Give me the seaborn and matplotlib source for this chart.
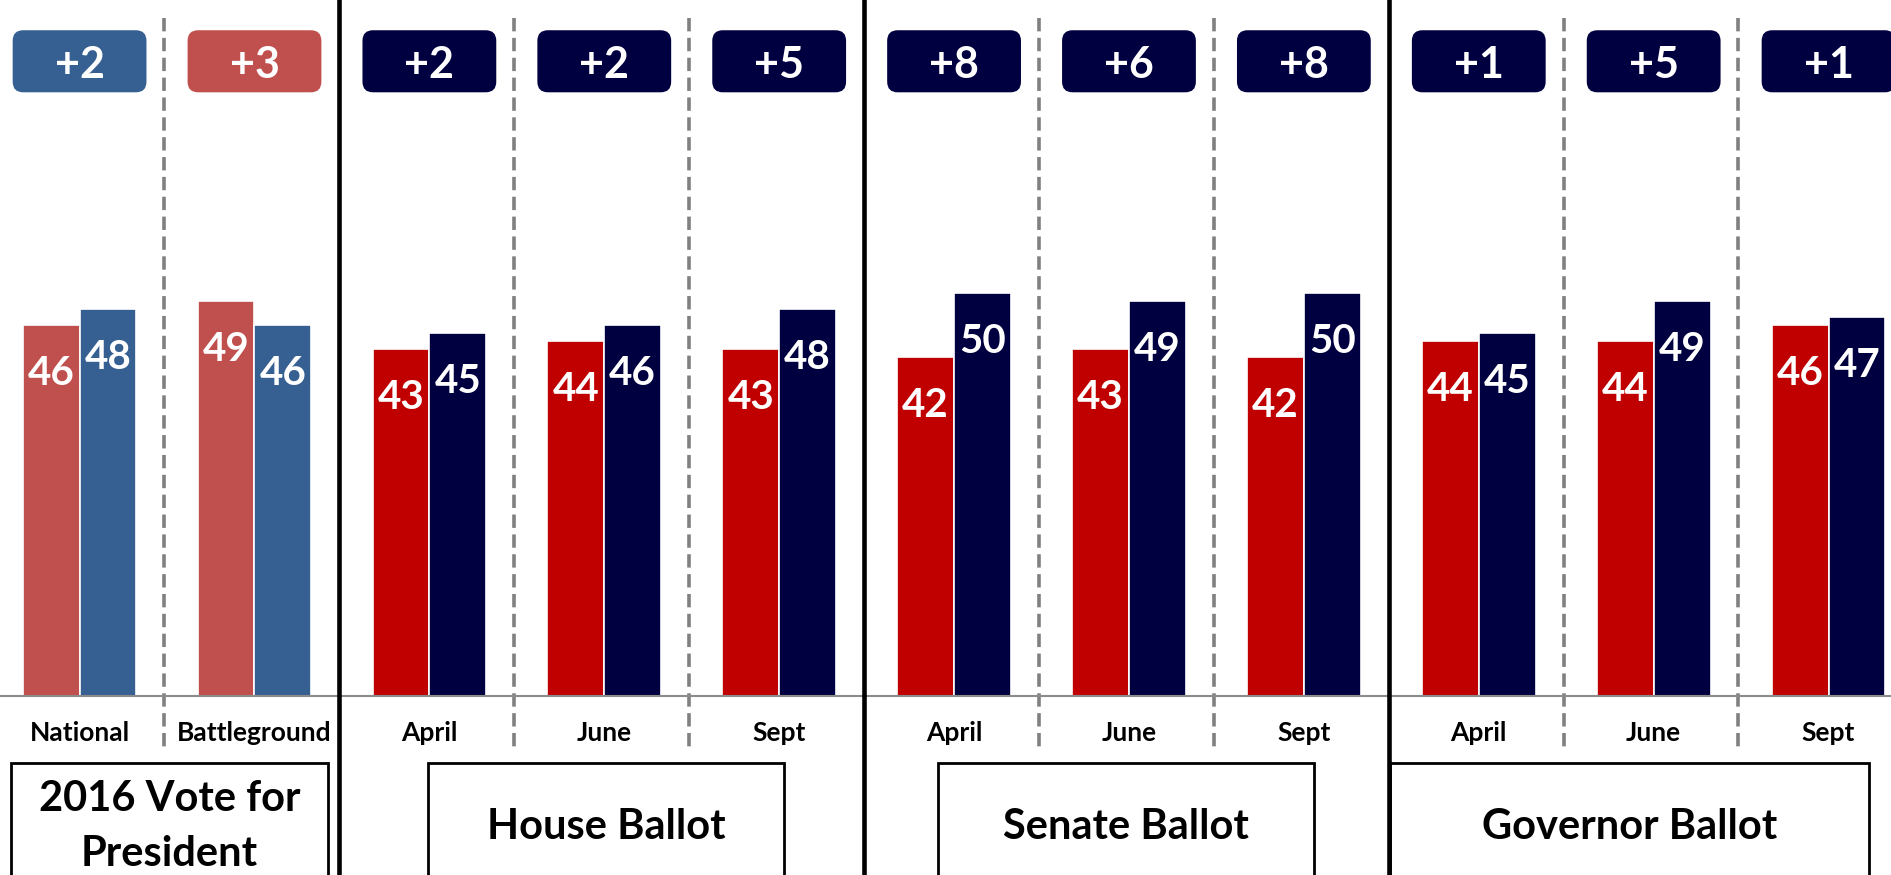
import numpy as np
import pandas as pd
import matplotlib
matplotlib.use("Agg")
import matplotlib.pyplot as plt
from matplotlib.patches import FancyBboxPatch, Rectangle
import seaborn as sns

# ---------------- data ----------------
keys = ["Pres National", "Pres Battleground", "House April", "House June", "House Sept",
        "Senate April", "Senate June", "Senate Sept", "Gov April", "Gov June", "Gov Sept"]
tick_labels = ["National", "Battleground", "April", "June", "Sept",
               "April", "June", "Sept", "April", "June", "Sept"]
rep_values = [46, 49, 43, 44, 43, 42, 43, 42, 44, 44, 46]
dem_values = [48, 46, 45, 46, 48, 50, 49, 50, 45, 49, 47]
margin_labels = ["+2", "+3", "+2", "+2", "+5", "+8", "+6", "+8", "+1", "+5", "+1"]
margin_party = ["D", "R", "D", "D", "D", "D", "D", "D", "D", "D", "D"]
section_titles = ["2016 Vote for\nPresident", "House Ballot", "Senate Ballot", "Governor Ballot"]

# ---------------- style ----------------
PRES_R = "#C0504D"
PRES_D = "#376092"
REP = "#C00000"
DEM = "#000040"
pres_idx = [0, 1]
section_box_x = [(-0.392, 1.42), (1.99, 4.03), (4.91, 7.06), (7.49, 10.23)]
dashed_after = [0, 2, 3, 5, 6, 8, 9]
solid_after = [1, 4, 7]

sns.set_theme(style="white")
plt.rcParams["font.family"] = ["Lato", "DejaVu Sans"]

df = pd.DataFrame({
    "key": keys * 2,
    "party": ["Republican"] * len(keys) + ["Democrat"] * len(keys),
    "value": rep_values + dem_values,
})

W, H = 1891, 875
fig = plt.figure(figsize=(W / 100, H / 100), dpi=100)
base_px = 696
ax = fig.add_axes([0, (H - base_px) / H, 1, base_px / H])

sns.barplot(data=df, x="key", y="value", hue="party", order=keys,
            hue_order=["Republican", "Democrat"],
            palette={"Republican": REP, "Democrat": DEM}, saturation=1,
            width=0.65, edgecolor="white", linewidth=1.2, ax=ax, legend=False)

px_per_unit = 8.06
ax.set_ylim(0, base_px / px_per_unit)
ax.set_xlim(-0.455, 10.357)

# recolor the 2016 presidential bars
for c, party in zip(ax.containers, ["Republican", "Democrat"]):
    for bar in c:
        idx = int(round(bar.get_x() + bar.get_width() / 2))
        if idx in pres_idx:
            bar.set_facecolor(PRES_R if party == "Republican" else PRES_D)
    ax.bar_label(c, fmt="%d", padding=-48, color="white", fontsize=29, fontweight="bold")

for s in ["left", "top", "right"]:
    ax.spines[s].set_visible(False)
ax.spines["bottom"].set_color("#8C8C8C")
ax.spines["bottom"].set_linewidth(1.5)
ax.spines["bottom"].set_zorder(5)

ax.set_xticks(range(len(keys)))
ax.set_xticklabels(tick_labels, fontsize=19, fontweight="bold", color="black")
ax.tick_params(axis="x", length=0, pad=18)
ax.set_yticks([])
ax.set_xlabel("")
ax.set_ylabel("")

# separators
for i in dashed_after:
    x = i + 0.485
    ax.plot([x, x], [84.1, -6.7], color="#808080", lw=2.6, ls=(0, (3.7, 1.8)),
            clip_on=False, zorder=1)
for i in solid_after:
    x = i + 0.485
    ax.plot([x, x], [95, -40], color="black", lw=3.3, clip_on=False, zorder=6)

# margin boxes
bw, bh, by = 0.765, 7.7, 74.9
for i, (lab, p) in enumerate(zip(margin_labels, margin_party)):
    if i in pres_idx:
        col = PRES_D if p == "D" else PRES_R
    else:
        col = DEM if p == "D" else REP
    box = FancyBboxPatch((i - bw / 2, by), bw, bh,
                         boxstyle="round,pad=0,rounding_size=0.06",
                         mutation_aspect=21.7, fc=col, ec="none", clip_on=False)
    ax.add_patch(box)
    ax.text(i, by + bh / 2, lab, ha="center", va="center_baseline", color="white",
            fontsize=31, fontweight="bold")

# section title boxes
for (x0, x1), title in zip(section_box_x, section_titles):
    rect = Rectangle((x0, -40), x1 - x0, 40 - 8.3, fill=False, ec="black", lw=2,
                     clip_on=False)
    ax.add_patch(rect)
    ax.text((x0 + x1) / 2, -16.2, title, ha="center", va="center", fontsize=30,
            fontweight="bold", color="black", linespacing=1.55)

fig.savefig("out.png", dpi=100)
